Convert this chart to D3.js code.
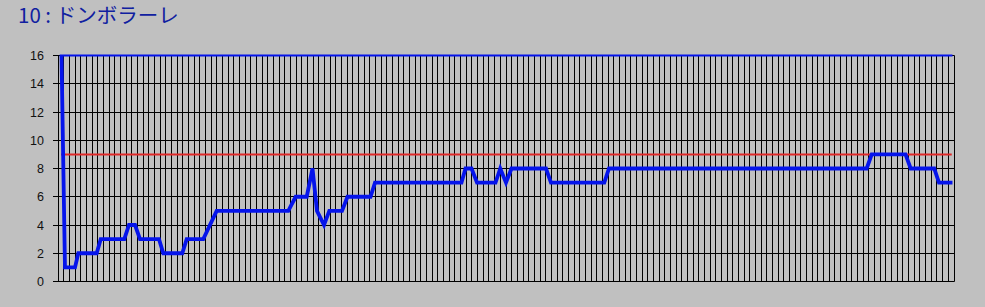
<!DOCTYPE html>
<html><head><meta charset="utf-8">
<script src="https://cdn.jsdelivr.net/npm/d3@7/dist/d3.min.js"></script>
<style>html,body{margin:0;padding:0;background:#c0c0c0;}svg{display:block;}</style>
</head><body>
<script>
// ---- data ----
const title = "10 : ドンボラーレ";
const yTicks = [0, 2, 4, 6, 8, 10, 12, 14, 16];
const gridCount = 158;                    // number of vertical grid intervals
// position line: breakpoints (time in grid units, position)
const posTime  = [0.62, 1.23, 3.00, 3.58, 6.82, 7.53, 11.69, 12.52, 13.58, 14.46, 17.81, 18.57, 21.92, 22.69, 25.62, 27.98, 40.61, 41.91, 43.86, 44.88, 45.67, 46.91, 47.84, 50.08, 51.05, 55.11, 55.90, 71.15, 71.86, 72.92, 73.89, 77.15, 77.99, 79.00, 79.97, 86.05, 86.93, 96.33, 97.16, 142.60, 143.49, 149.45, 150.36, 154.51, 155.35, 157.73];
const posValue = [16, 1, 1, 2, 2, 3, 3, 4, 4, 3, 3, 2, 2, 3, 3, 5, 5, 6, 6, 8, 5, 4, 5, 5, 6, 6, 7, 7, 8, 8, 7, 7, 8, 7, 8, 8, 7, 7, 8, 8, 9, 9, 8, 8, 7, 7];
const fieldTime = [0.3, 157.73], fieldValue = [16, 16];
const refTime = [0.53, 157.6], refValue = [9, 9];

// ---- layout ----
const W = 985, H = 307;
const svg = d3.select("body").append("svg").attr("width", W).attr("height", H);
svg.append("rect").attr("width", W).attr("height", H).attr("fill", "#c0c0c0");

const x = d3.scaleLinear().domain([0, gridCount]).range([58, 954]);
const y = d3.scaleLinear().domain([0, 16]).range([281.5, 55.5]);
const crisp = v => Math.round(v - 0.5) + 0.5;

svg.append("text").attr("x", 18).attr("y", 23)
  .attr("font-family", "'Noto Sans CJK JP', sans-serif").attr("font-size", 20.5)
  .attr("fill", "#1020a0").text(title);

const g = svg.append("g");
// vertical grid
g.selectAll("line.v").data(d3.range(0, gridCount + 1)).join("line")
  .attr("x1", d => crisp(x(d))).attr("x2", d => crisp(x(d)))
  .attr("y1", y(16)).attr("y2", y(0))
  .attr("stroke", "#000").attr("stroke-width", 1);
// horizontal grid + ticks
g.selectAll("line.h").data(yTicks).join("line")
  .attr("x1", 53).attr("x2", crisp(x(gridCount)))
  .attr("y1", d => crisp(y(d))).attr("y2", d => crisp(y(d)))
  .attr("stroke", "#000").attr("stroke-width", 1);
// y axis line
g.append("line").attr("x1", crisp(x(0))).attr("x2", crisp(x(0)))
  .attr("y1", y(16)).attr("y2", y(0)).attr("stroke", "#000");
// labels
g.selectAll("text.yl").data(yTicks).join("text")
  .attr("x", 44).attr("y", d => y(d)).attr("dy", "0.36em")
  .attr("text-anchor", "end")
  .attr("font-family", "'Liberation Sans', Arial, sans-serif").attr("font-size", 12.5)
  .attr("fill", "#111").text(d => d);

const line = d3.line().x(d => x(d[0])).y(d => y(d[1]));
svg.append("path").datum(refTime.map((t, i) => [t, refValue[i]]))
  .attr("d", line).attr("fill", "none").attr("stroke", "#e02828").attr("stroke-width", 2);
svg.append("path").datum(fieldTime.map((t, i) => [t, fieldValue[i]]))
  .attr("d", line).attr("fill", "none").attr("stroke", "#0514eb").attr("stroke-width", 2);
svg.append("path").datum(posTime.map((t, i) => [t, posValue[i]]))
  .attr("d", line).attr("fill", "none").attr("stroke", "#0514eb")
  .attr("stroke-width", 3.8).attr("stroke-linejoin", "miter").attr("stroke-miterlimit", 4);
</script>
</body></html>
